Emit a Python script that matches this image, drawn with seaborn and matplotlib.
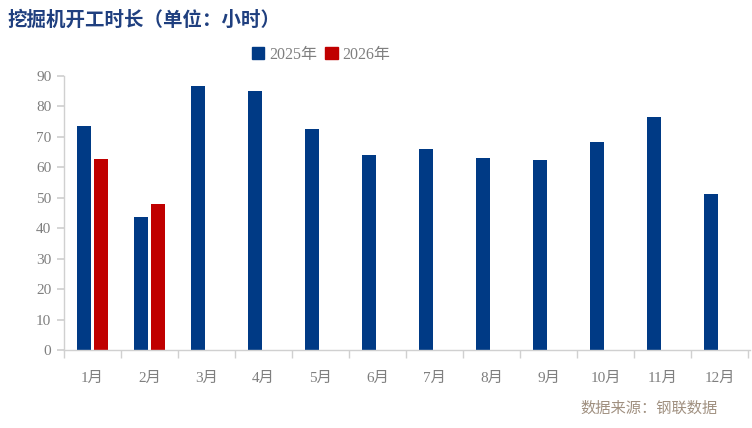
import matplotlib
matplotlib.use("Agg")
import matplotlib.pyplot as plt
import seaborn as sns
import pandas as pd
import numpy as np

months = ["1月", "2月", "3月", "4月", "5月", "6月", "7月", "8月", "9月", "10月", "11月", "12月"]
series_names = ["2025年", "2026年"]
values_2025 = [73.5, 43.6, 86.6, 85.0, 72.5, 64.0, 66.0, 63.0, 62.3, 68.2, 76.4, 51.2]
values_2026 = [62.7, 47.9] + [np.nan] * 10
colors = ["#003A85", "#C00000"]
yticks = [0, 10, 20, 30, 40, 50, 60, 70, 80, 90]

df = pd.DataFrame({
    "month": months * 2,
    "year": [series_names[0]] * 12 + [series_names[1]] * 12,
    "value": values_2025 + values_2026,
})

sns.set_theme(style="white")
fam = ["Liberation Serif", "Noto Sans CJK SC"]
plt.rcParams["font.family"] = fam

fig = plt.figure(figsize=(7.52, 4.28), dpi=100)
ax = fig.add_axes([0.085, 0.182, 0.912, 0.641])

sns.barplot(data=df, x="month", y="value", hue="year", order=months,
            hue_order=series_names, palette=colors, width=0.6, gap=0.22,
            saturation=1, ax=ax, legend=False, errorbar=None, linewidth=0)

ax.set_ylim(0, 90)
ax.set_yticks(yticks)
ax.set_xlim(-0.5, 11.53)
ax.set_xlabel("")
ax.set_ylabel("")

grey = "#d0d0d0"
for s in ["top", "right"]:
    ax.spines[s].set_visible(False)
ax.spines["left"].set_color(grey)
ax.spines["bottom"].set_color(grey)
ax.spines["left"].set_linewidth(1)
ax.spines["bottom"].set_linewidth(1)

ax.tick_params(axis="y", which="major", left=True, length=5, color=grey,
               labelsize=11, labelcolor="#7f7f7f", pad=4)
ax.set_xticks(range(12))
ax.set_xticklabels(months)
ax.tick_params(axis="x", which="major", bottom=False, labelsize=11,
               labelcolor="#7f7f7f", pad=10)
ax.set_xticks(np.arange(-0.5, 12, 1), minor=True)
ax.tick_params(axis="x", which="minor", bottom=True, length=6, color=grey)
for lab in ax.get_xticklabels() + ax.get_yticklabels():
    lab.set_family(fam)

fig.text(0.010, 0.953, "挖掘机开工时长（单位：小时）", fontsize=14, fontweight="bold",
         color="#1F3F7F", family=["Noto Sans CJK SC"], ha="left", va="center")

from matplotlib.patches import Patch
handles = [Patch(facecolor=c, edgecolor=c) for c in colors]
fig.legend(handles, series_names, loc="center", bbox_to_anchor=(0.427, 0.872),
           ncol=2, frameon=False, handlelength=0.8, handleheight=0.8,
           handletextpad=0.3, columnspacing=0.5, labelcolor="#7f7f7f",
           prop={"family": fam, "size": 11.5})

fig.text(0.955, 0.046, "数据来源：钢联数据", fontsize=11, color="#A09080",
         family=fam, ha="right", va="center")

fig.savefig("out.png", dpi=100)
